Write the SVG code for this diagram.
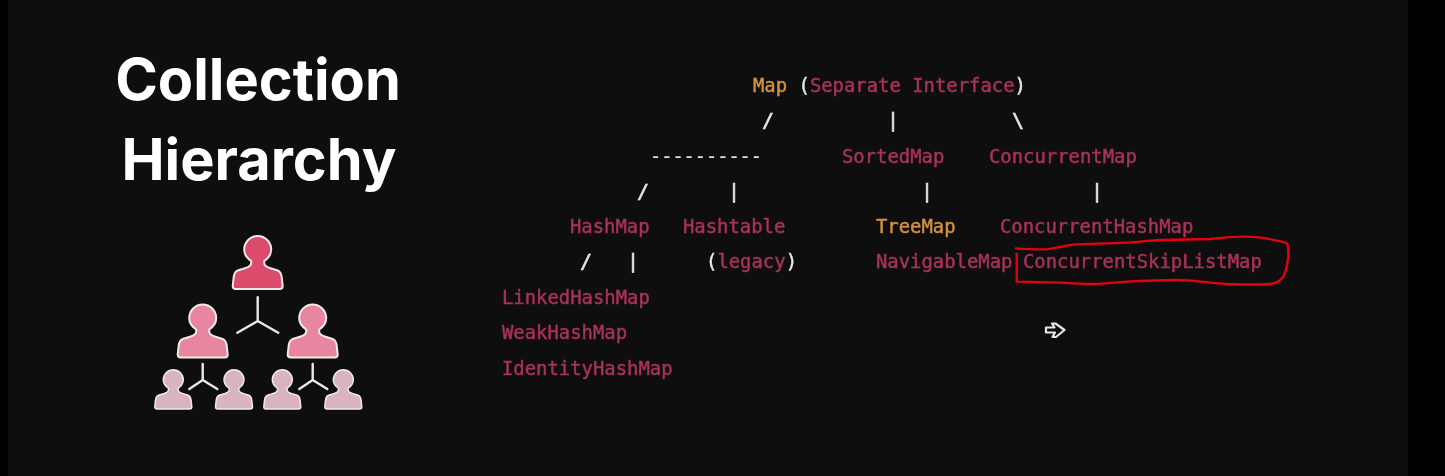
<svg xmlns="http://www.w3.org/2000/svg" width="1445" height="476" viewBox="0 0 1445 476">
<style>
.title{font-family:Inter,"Liberation Sans",sans-serif;font-weight:700;font-size:57.7px;fill:#fff;text-anchor:middle}
.m{font-family:"DejaVu Sans Mono","Liberation Mono",monospace;font-size:18.9px;fill:#a93257;stroke:#a93257;stroke-width:.45}
.m .o,.m.o{fill:#d4913f;stroke:#d4913f}
.m .w{fill:#e8e8e8;stroke:#e8e8e8}
.s{font-family:"DejaVu Sans Mono","Liberation Mono",monospace;font-size:20px;fill:#e4e4e4;stroke:#e4e4e4;stroke-width:.6;text-anchor:middle}
.d{font-size:18.6px;stroke-width:.2}
.y{fill:none;stroke:#f0e6e8;stroke-width:2.4;stroke-linecap:round;stroke-linejoin:round}
.p{stroke:#f3e9ea;stroke-width:2;stroke-linejoin:round}
</style>
<defs>
<path id="person" d="M0,1A13.5,13.5 0 0 1 13.5,14.5C13.5,19 11,23 6.5,26L6.5,28C6.5,31 9,32 12,33L20,35.5C23,36.5 23.5,39 24,42L25,51C25,53 24,54 22,54L-22,54C-24,54 -25,53 -25,51L-24,42C-23.5,39 -23,36.5 -20,35.5L-12,33C-9,32 -6.5,31 -6.5,28L-6.5,26C-11,23 -13.5,19 -13.5,14.5A13.5,13.5 0 0 1 0,1Z"/>
<filter id="soft" x="-5%" y="-20%" width="110%" height="140%"><feGaussianBlur stdDeviation="0.5"/></filter>
</defs>
<rect width="1445" height="476" fill="#000"/>
<rect x="8" width="1400" height="476" fill="#0e0e0f"/>
<g id="title">
<text class="title" x="258" y="100">Collection</text>
<text class="title" x="259" y="180">Hierarchy</text>
</g>
<g id="org-icon" filter="url(#soft)">
<g class="y">
<path d="M257.7,297.3V321M237.3,332.7L257.7,321L278.3,332.7"/>
<path d="M202.7,364V380M189.3,389L202.7,380L217.3,389"/>
<path d="M312.7,364V380M299.3,389L312.7,380L327.3,389"/>
</g>
<use href="#person" class="p" fill="#dc4c6c" transform="translate(257.7,235)"/>
<use href="#person" class="p" fill="#e8869f" transform="translate(202.7,303.5)"/>
<use href="#person" class="p" fill="#e8869f" transform="translate(312.7,303.5)"/>
<use href="#person" class="p" fill="#d9b4c0" transform="translate(173.3,369) scale(.74)"/>
<use href="#person" class="p" fill="#d9b4c0" transform="translate(234,369) scale(.74)"/>
<use href="#person" class="p" fill="#d9b4c0" transform="translate(282.3,369) scale(.74)"/>
<use href="#person" class="p" fill="#d9b4c0" transform="translate(343.3,369) scale(.74)"/>
</g>
<g id="connectors" filter="url(#soft)">
<text class="s" x="768" y="127">/</text>
<text class="s" x="893" y="127">|</text>
<text class="s" x="1018" y="127">\</text>
<text class="s d" x="706" y="163">----------</text>
<text class="s" x="643" y="198">/</text>
<text class="s" x="734" y="198">|</text>
<text class="s" x="927" y="198">|</text>
<text class="s" x="1097" y="198">|</text>
<text class="s" x="586" y="268">/</text>
<text class="s" x="633" y="268">|</text>
</g>
<g filter="url(#soft)">
<g id="node-map"><text class="m" x="753" y="91.5"><tspan class="o">Map</tspan> <tspan class="w">(</tspan>Separate Interface<tspan class="w">)</tspan></text></g>
<g id="node-sortedmap"><text class="m" x="842" y="162.5">SortedMap</text></g>
<g id="node-concurrentmap"><text class="m" x="989" y="162.5">ConcurrentMap</text></g>
<g id="node-hashmap"><text class="m" x="570" y="232.5">HashMap</text></g>
<g id="node-hashtable"><text class="m" x="683" y="232.5">Hashtable</text></g>
<g id="node-treemap"><text class="m o" x="876" y="232.5">TreeMap</text></g>
<g id="node-concurrenthashmap"><text class="m" x="1000" y="232.5">ConcurrentHashMap</text></g>
<g id="node-legacy"><text class="m" x="706" y="268"><tspan class="w">(</tspan>legacy<tspan class="w">)</tspan></text></g>
<g id="node-navigablemap"><text class="m" x="876" y="268">NavigableMap</text></g>
<g id="node-skiplist"><text class="m" x="1023" y="268">ConcurrentSkipListMap</text></g>
<g id="node-linkedhashmap"><text class="m" x="502" y="303.5">LinkedHashMap</text></g>
<g id="node-weakhashmap"><text class="m" x="502" y="338.5">WeakHashMap</text></g>
<g id="node-identityhashmap"><text class="m" x="502" y="374.5">IdentityHashMap</text></g>
</g>
<path id="scribble" fill="none" stroke="#e8000f" stroke-width="2.3" stroke-linejoin="round" d="M1015,248.3C1026,249 1037,249.6 1046.7,249.3C1058,248 1066,245 1076.7,244.3L1126.7,242.7C1140,242 1150,240.5 1160,240L1210,239C1222,238 1232,236.7 1243.3,236.7C1256,236.8 1266,238 1273.3,240C1281,241.5 1287,242 1287.7,245C1288.5,250 1288.5,252 1288.3,256.7C1287.5,264 1286,271 1283.3,276.7C1280,281 1276,283.5 1270,284C1255,285 1240,284.5 1226.7,284C1210,283 1193,280 1176.7,280C1160,280 1143,280.8 1126.7,281.7C1115,282.5 1105,284 1093.3,284C1082,284 1071,283 1060,282.7L1016.7,281.7V252.7"/>
<path id="cursor" d="M1046,327.5H1054.5L1052,323.5H1055.5L1064.5,330L1056,337H1052.5L1055,332.5H1046Z" fill="#0e0e0f" stroke="#e6e6e6" stroke-width="2.2" stroke-linejoin="round"/>
</svg>
